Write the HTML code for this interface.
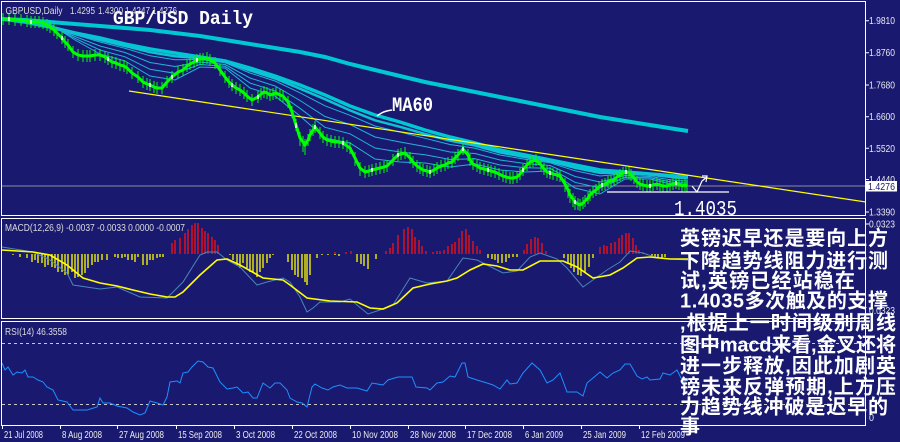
<!DOCTYPE html>
<html><head><meta charset="utf-8"><style>
html,body{margin:0;padding:0;background:#191970;}
svg{display:block;}
</style></head><body>
<svg width="900" height="442" viewBox="0 0 900 442" xmlns="http://www.w3.org/2000/svg">
<rect width="900" height="442" fill="#191970"/>
<defs>
<clipPath id="cm"><rect x="2" y="2" width="863" height="213"/></clipPath>
<clipPath id="cd"><rect x="2" y="219" width="863" height="99"/></clipPath>
<clipPath id="cr"><rect x="2" y="322" width="863" height="103"/></clipPath>
</defs>

<!-- MAIN PANEL -->
<g clip-path="url(#cm)">
<line x1="2" y1="186" x2="865" y2="186" stroke="#909098" stroke-width="1"/>
<!-- long MA -->
<polyline fill="none" stroke="#00c8d2" stroke-width="4" points="2,19 25,20 50,22 75,24 100,26 125,28 150,30 175,33 200,36 225,40 250,44 275,48 300,52 325,57 350,64 375,70 400,76 425,82 450,87 475,92 500,97 525,102 550,107 575,112 600,117 625,121 650,125 675,129 688,131"/>
<!-- MA60 -->
<polyline fill="none" stroke="#00c8d2" stroke-width="3.5" points="2,19 25,22 50,27 75,33 100,38 125,44 150,49 175,53 200,57 225,61 250,68 275,76 300,85 325,95 350,106 375,115 400,122 425,130 450,137 475,143 500,150 525,155 550,160 575,165 600,170 625,172 650,174 675,176 688,177"/>
<polyline fill="none" stroke="#10c0d4" stroke-width="2.5" points="3,19 25,21.8 50,26.6 75,33.8 100,39.9 125,46 150,52.2 175,56.2 200,58.2 225,61.8 250,70.4 275,78.4 300,88.7 325,99.2 350,110.4 375,120.3 400,126.8 425,134 450,140.6 475,145.5 500,152.4 525,157 550,161.3 575,167.8 600,172.9 625,172.8 650,174.6 675,177.1 688,178"/>
<g fill="none" stroke="#20b4d8" stroke-width="1">
<polyline points="3,19 25,21.5 50,26.3 75,34.8 100,42 125,48.3 150,55.8 175,59.8 200,59.5 225,62.8 250,73 275,81 300,92.8 325,105.8 350,115.3 375,126 400,132 425,138.3 450,144.5 475,148.3 500,155 525,159.3 550,162.8 575,170.8 600,176 625,173.8 650,175.3 675,178.3 688,179"/>
<polyline points="3,19 25,21 50,25.5 75,36.5 100,46 125,52.5 150,62.5 175,66.5 200,62 225,64.5 250,78 275,86 300,100.5 325,116.5 350,124.5 375,137 400,142 425,146.5 450,152 475,153.5 500,160 525,163.5 550,165.5 575,176.5 600,182 625,175.5 650,176.5 675,180.5 688,181"/>
<polyline points="3,19 25,20.5 50,24.8 75,38.3 100,50 125,56.8 150,69.3 175,73.3 200,64.5 225,66.3 250,83 275,91 300,108.3 325,127.3 350,133.8 375,148 400,152 425,154.8 450,159.5 475,158.8 500,165 525,167.8 550,168.3 575,182.3 600,188 625,177.3 650,177.8 675,182.8 688,183"/>
<polyline points="3,19 25,20 50,24 75,40 100,54 125,61 150,76 175,80 200,67 225,68 250,88 275,96 300,116 325,138 350,143 375,159 400,162 425,163 450,167 475,164 500,170 525,172 550,171 575,188 600,194 625,179 650,179 675,185 688,185"/>
</g>
<!-- yellow trend line -->
<line x1="129" y1="91" x2="866" y2="202" stroke="#ffff00" stroke-width="1.2"/>
<!-- candles -->
<polyline fill="none" stroke="#00ff00" stroke-width="3" points="3,19 9,19 15,20 21,20 27,21 31,22 35,22 39,22 43,23 47,25 50,27 54,30 57,33 62,38 65,42 68,45 73,52 78,55 83,56 87,56 90,56 95,55 100,55 105,57 108,59 112,62 116,63 120,65 124,66 127,68 132,73 138,77 143,82 147,84 150,85 154,87 157,88 162,88 167,82 172,77 178,72 183,70 187,66 190,64 194,62 197,60 200,59 203,59 207,58 210,60 215,63 220,70 225,77 229,82 232,85 236,88 240,90 244,93 247,96 252,100 258,97 261,94 264,92 267,93 270,95 273,94 276,93 280,95 283,96 288,102 292,112 296,125 300,138 303,142 305,145 308,140 310,135 313,130 315,127 320,133 323,137 327,140 331,141 335,142 339,142 343,143 347,146 350,148 355,158 360,168 365,172 369,171 372,170 376,169 380,168 384,167 387,166 393,160 398,155 401,154 405,153 410,158 413,162 417,166 420,168 423,170 427,171 430,172 434,170 437,168 441,166 445,165 448,163 452,162 455,158 458,155 463,149 468,155 470,160 473,164 477,166 480,168 484,169 488,170 491,171 495,172 499,174 503,176 506,177 510,178 513,178 517,177 520,174 523,170 527,165 530,162 533,161 536,160 541,165 544,169 547,172 550,173 553,174 557,175 560,176 565,184 568,190 570,195 573,199 575,202 578,204 580,205 583,203 585,201 588,198 590,195 593,192 596,190 599,187 602,185 605,184 608,182 611,181 614,180 617,177 620,175 623,173 626,172 629,173 631,175 634,178 637,182 640,184 643,185 647,186 650,186 653,185 657,184 660,185 663,186 667,186 670,185 673,184 676,183 679,184 682,186 685,185 687,186"/>
<path fill="none" stroke="#00ff00" stroke-width="1" d="M3 13v12M9 13v12M15 14v12M21 14v12M27 15v12M31 16v12M35 16v12M39 16v12M43 17v12M47 19v12M50 21v12M54 24v12M57 27v12M62 32v12M65 36v12M68 39v12M73 46v12M78 49v12M83 50v12M87 50v12M90 50v12M95 49v12M100 49v12M105 51v12M108 53v12M112 56v12M116 57v12M120 59v12M124 60v12M127 62v12M132 67v12M138 71v12M143 76v12M147 78v12M150 79v12M154 81v12M157 82v12M162 82v12M167 76v12M172 71v12M178 66v12M183 64v12M187 60v12M190 58v12M194 56v12M197 54v12M200 53v12M203 53v12M207 52v12M210 54v12M215 57v12M220 64v12M225 71v12M229 76v12M232 79v12M236 82v12M240 84v12M244 87v12M247 90v12M252 94v12M258 91v12M261 88v12M264 86v12M267 87v12M270 89v12M273 88v12M276 87v12M280 89v12M283 90v12M288 96v12M292 106v12M296 119v12M300 132v14M303 136v16M305 139v16M308 134v12M310 129v12M313 124v12M315 121v12M320 127v12M323 131v12M327 134v12M331 135v12M335 136v12M339 136v12M343 137v12M347 140v12M350 142v12M355 152v14M360 162v14M365 166v12M369 165v12M372 164v12M376 163v12M380 162v12M384 161v12M387 160v12M393 154v12M398 149v12M401 148v12M405 147v12M410 152v12M413 156v12M417 160v12M420 162v12M423 164v12M427 165v12M430 166v12M434 164v12M437 162v12M441 160v12M445 159v12M448 157v12M452 156v12M455 152v12M458 149v12M463 143v12M468 149v12M470 154v12M473 158v12M477 160v12M480 162v12M484 163v12M488 164v12M491 165v12M495 166v12M499 168v12M503 170v12M506 171v12M510 172v12M513 172v12M517 171v12M520 168v12M523 164v12M527 159v12M530 156v12M533 155v12M536 154v12M541 159v12M544 163v12M547 166v12M550 167v12M553 168v12M557 169v12M560 170v12M565 178v14M568 184v14M570 189v14M573 193v14M575 196v14M578 198v12M580 199v12M583 197v12M585 195v12M588 192v12M590 189v12M593 186v12M596 184v12M599 181v12M602 179v12M605 178v12M608 176v12M611 175v12M614 174v12M617 171v12M620 169v12M623 167v12M626 166v12M629 167v12M631 169v12M634 172v12M637 176v12M640 178v12M643 179v12M647 180v12M650 180v12M653 179v12M657 178v12M660 179v12M663 180v12M667 180v12M670 179v12M673 178v12M676 177v12M679 178v12M682 180v12M685 179v12M687 180v12"/>
<path fill="none" stroke="#ffffff" stroke-width="1.5" d="M9 17v4M31 20v4M62 36v4M108 57v4M150 83v4M172 75v4M197 58v4M232 83v4M258 95v4M296 123v5M315 125v4M343 141v4M372 168v4M398 153v4M430 170v4M463 147v4M488 168v4M523 168v4M550 171v4M575 200v4M602 183v4M626 170v4M650 184v4M676 181v4"/>
<!-- support line & arrow -->
<line x1="607" y1="192" x2="729" y2="192" stroke="#ffffff" stroke-width="1.2"/>
<polyline fill="none" stroke="#ffffff" stroke-width="1.2" points="692,186 697,192 702,181 707,177"/>
<path fill="none" stroke="#ffffff" stroke-width="1.2" d="M702,176 L707,176 L706,182"/>
<!-- MA60 pointer -->
<path fill="none" stroke="#ffffff" stroke-width="1.5" d="M377,116 Q383,111 392,110"/>
</g>
<text x="392" y="111" font-family="'Liberation Mono',monospace" font-weight="bold" font-size="20" fill="#ffffff" textLength="41" lengthAdjust="spacingAndGlyphs">MA60</text>
<text x="113" y="24" font-family="'Liberation Mono',monospace" font-weight="bold" font-size="19" fill="#ffffff" textLength="140" lengthAdjust="spacingAndGlyphs">GBP/USD Daily</text>
<text x="674" y="215" font-family="'Liberation Mono',monospace" font-size="21" fill="#ffffff" textLength="63" lengthAdjust="spacingAndGlyphs">1.4035</text>

<!-- header -->
<g font-family="'Liberation Sans',sans-serif" font-size="10" fill="#dcdcdc">
<text x="5.5" y="14" textLength="57" lengthAdjust="spacingAndGlyphs">GBPUSD,Daily</text>
<text x="70" y="14" textLength="25" lengthAdjust="spacingAndGlyphs">1.4295</text>
<text x="98" y="14" textLength="25" lengthAdjust="spacingAndGlyphs">1.4300</text>
<text x="125" y="14" textLength="25" lengthAdjust="spacingAndGlyphs">1.4247</text>
<text x="152" y="14" textLength="25" lengthAdjust="spacingAndGlyphs">1.4276</text>
<text x="5" y="231" textLength="180" lengthAdjust="spacingAndGlyphs">MACD(12,26,9) -0.0037 -0.0033 0.0000 -0.0007</text>
<text x="5" y="335" textLength="62" lengthAdjust="spacingAndGlyphs">RSI(14) 46.3558</text>
</g>

<!-- MACD PANEL -->
<g clip-path="url(#cd)">
<path fill="none" stroke="#ffff00" stroke-width="1.3" d="M13 254V255M20 254V257M27 254V258M32 254V262M35 254V260M38 254V263M42 254V263M45 254V267M48 254V265M52 254V267M55 254V268M58 254V272M62 254V272M65 254V275M68 254V275M72 254V272M75 254V278M78 254V277M82 254V275M85 254V273M88 254V268M92 254V265M95 254V262M98 254V262M102 254V260M107 254V260M115 254V257M118 254V258M122 254V258M125 254V257M128 254V260M132 254V260M135 254V262M138 254V257M143 254V265M147 254V265M150 254V260M153 254V260M157 254V258M160 254V257M163 254V257M230 254V255M233 254V260M237 254V265M240 254V268M243 254V263M247 254V268M250 254V272M253 254V273M257 254V277M260 254V272M263 254V268M267 254V263M270 254V258M273 254V255M288 254V262M292 254V270M295 254V275M298 254V277M302 254V278M305 254V282M307 254V285M310 254V275M317 254V258M322 254V255M328 254V255M335 254V255M339 254V256M357 254V262M361 254V264M364 254V266M368 254V269M376 254V259M488 254V258M492 254V259M495 254V260M498 254V263M502 254V263M506 254V262M509 254V258M513 254V257M517 254V257M564 254V258M568 254V264M571 254V268M574 254V272M578 254V275M581 254V276M585 254V273M589 254V267M593 254V258M647 254V255M652 254V256M655 254V257M658 254V258M662 254V258M665 254V257"/>
<path fill="none" stroke="#ff1010" stroke-width="1.3" d="M172 254V243M175 254V240M180 254V238M185 254V233M188 254V229M192 254V225M195 254V223M198 254V223M202 254V228M205 254V231M208 254V233M212 254V237M215 254V240M218 254V245M335 254V252M346 254V252M351 254V251M386 254V251M390 254V248M393 254V243M398 254V235M404 254V229M408 254V227M412 254V229M415 254V237M419 254V240M422 254V246M426 254V251M433 254V252M437 254V251M440 254V251M444 254V250M448 254V246M452 254V244M455 254V242M459 254V238M462 254V231M466 254V229M469 254V235M473 254V241M477 254V246M480 254V250M524 254V250M527 254V244M531 254V239M535 254V237M538 254V238M542 254V243M546 254V251M600 254V247M604 254V245M607 254V246M611 254V243M615 254V242M619 254V238M622 254V235M626 254V233M629 254V233M633 254V238M636 254V245M639 254V250M643 254V252"/>
<polyline fill="none" stroke="#4a86b8" stroke-width="1" points="2,247 33,252 50,260 67,273 73,285 100,289 117,287 140,297 167,298 183,282 200,255 207,252 217,252 227,260 240,267 257,285 267,282 283,278 290,282 300,297 307,312 313,308 320,302 340,302 350,299 357,305 368,314 383,309 393,305 410,278 427,283 447,281 463,258 477,260 487,265 503,273 517,271 530,257 540,253 557,259 567,268 583,287 607,270 620,262 630,251 643,253 657,258 670,259 688,260"/>
<polyline fill="none" stroke="#ffff00" stroke-width="1.6" points="2,250 33,252 50,255 67,265 83,278 100,283 117,286 133,290 150,294 167,297 175,297 183,292 200,275 217,260 227,259 240,265 263,278 283,280 290,285 307,298 330,301 357,302 370,308 383,309 397,303 413,288 430,284 447,281 457,278 470,270 483,264 497,266 510,270 523,270 540,261 563,261 577,267 593,278 610,275 623,268 637,258 650,257 670,259 688,259"/>
</g>

<!-- RSI PANEL -->
<g clip-path="url(#cr)">
<line x1="2" y1="343.5" x2="865" y2="343.5" stroke="#c8c8c8" stroke-width="1" stroke-dasharray="3,3"/>
<line x1="2" y1="404.5" x2="865" y2="404.5" stroke="#c8c8c8" stroke-width="1" stroke-dasharray="3,3"/>
<polyline fill="none" stroke="#1e90ff" stroke-width="1" points="2,363 5,370 8,367 13,375 17,372 22,373 25,370 28,377 33,377 38,380 43,382 47,387 53,390 58,400 67,402 73,410 87,410 97,407 100,398 103,403 110,403 117,406 127,408 133,412 140,415 145,413 150,401 157,403 163,405 167,397 170,382 177,381 180,383 183,373 188,372 192,367 198,361 203,362 208,367 213,368 220,382 227,389 233,388 237,387 243,393 248,392 253,398 257,398 263,383 270,388 275,383 280,383 287,390 290,398 297,402 302,403 307,407 312,387 315,384 322,388 328,390 333,387 340,385 347,388 357,388 367,391 372,383 383,385 388,380 398,377 412,377 416,387 427,388 430,390 437,383 443,382 450,376 455,377 462,363 465,363 468,377 477,380 487,383 493,385 500,389 507,380 510,384 517,383 523,373 532,363 540,370 547,383 553,380 560,373 567,392 577,392 583,396 587,383 593,378 600,372 607,378 613,373 620,370 625,364 630,364 637,376 642,379 647,377 650,380 660,379 663,373 670,375 677,370 683,382 688,380"/>
</g>

<!-- panel borders -->
<g fill="none" stroke="#ffffff" stroke-width="1">
<rect x="1.5" y="1.5" width="864" height="214"/>
<rect x="1.5" y="218.5" width="864" height="100"/>
<rect x="1.5" y="321.5" width="864" height="104"/>
</g>

<!-- price axis -->
<g stroke="#ffffff" stroke-width="1">
<path d="M865 20.7h4M865 52.7h4M865 85h4M865 116.7h4M865 148.3h4M865 179.5h4M865 212h4M865 224h4M2.5 425v4M60.5 425v4M117.5 425v4M176.5 425v4M234.5 425v4M292.5 425v4M350.5 425v4M408.5 425v4M465.5 425v4M523.5 425v4M581.5 425v4M639.5 425v4"/>
</g>
<g font-family="'Liberation Sans',sans-serif" font-size="10" fill="#e8e8f0">
<text x="869" y="24.2" textLength="26" lengthAdjust="spacingAndGlyphs">1.9810</text>
<text x="869" y="56.2" textLength="26" lengthAdjust="spacingAndGlyphs">1.8760</text>
<text x="869" y="88.5" textLength="26" lengthAdjust="spacingAndGlyphs">1.7680</text>
<text x="869" y="120.2" textLength="26" lengthAdjust="spacingAndGlyphs">1.6600</text>
<text x="869" y="151.8" textLength="26" lengthAdjust="spacingAndGlyphs">1.5520</text>
<text x="869" y="183" textLength="26" lengthAdjust="spacingAndGlyphs">1.4440</text>
<text x="869" y="215.5" textLength="26" lengthAdjust="spacingAndGlyphs">1.3390</text>
<text x="869" y="227.5" textLength="26" lengthAdjust="spacingAndGlyphs">0.0323</text>
<text x="869" y="314" textLength="26" lengthAdjust="spacingAndGlyphs">0.0323</text>
<text x="869" y="421" textLength="5" lengthAdjust="spacingAndGlyphs">0</text>
</g>
<rect x="866" y="181" width="31" height="10.5" fill="#ffffff"/>
<text x="868" y="190" font-family="'Liberation Sans',sans-serif" font-size="10" fill="#191970" textLength="27" lengthAdjust="spacingAndGlyphs">1.4276</text>

<!-- dates -->
<g font-family="'Liberation Sans',sans-serif" font-size="10" fill="#ececec">
<text x="4" y="438" textLength="39" lengthAdjust="spacingAndGlyphs">21 Jul 2008</text>
<text x="62" y="438" textLength="40" lengthAdjust="spacingAndGlyphs">8 Aug 2008</text>
<text x="119" y="438" textLength="45" lengthAdjust="spacingAndGlyphs">27 Aug 2008</text>
<text x="178" y="438" textLength="44" lengthAdjust="spacingAndGlyphs">15 Sep 2008</text>
<text x="236" y="438" textLength="39" lengthAdjust="spacingAndGlyphs">3 Oct 2008</text>
<text x="294" y="438" textLength="43" lengthAdjust="spacingAndGlyphs">22 Oct 2008</text>
<text x="352" y="438" textLength="46" lengthAdjust="spacingAndGlyphs">10 Nov 2008</text>
<text x="410" y="438" textLength="46" lengthAdjust="spacingAndGlyphs">28 Nov 2008</text>
<text x="467" y="438" textLength="45" lengthAdjust="spacingAndGlyphs">17 Dec 2008</text>
<text x="525" y="438" textLength="38" lengthAdjust="spacingAndGlyphs">6 Jan 2009</text>
<text x="583" y="438" textLength="43" lengthAdjust="spacingAndGlyphs">25 Jan 2009</text>
<text x="641" y="438" textLength="44" lengthAdjust="spacingAndGlyphs">12 Feb 2009</text>
</g>

<!-- Chinese annotation -->
<g font-family="'Liberation Sans','Noto Sans CJK SC',sans-serif" font-size="20" font-weight="bold" fill="#ffffff">
<text x="680" y="245" textLength="208" lengthAdjust="spacing">英镑迟早还是要向上方</text>
<text x="680" y="267.5" textLength="208" lengthAdjust="spacing">下降趋势线阻力进行测</text>
<text x="680" y="287.5" textLength="175" lengthAdjust="spacing">试,英镑已经站稳在</text>
<text x="680" y="307.5" textLength="208" lengthAdjust="spacing">1.4035多次触及的支撑</text>
<text x="680" y="329.5" textLength="216" lengthAdjust="spacing">,根据上一时间级别周线</text>
<text x="680" y="351.5" textLength="216" lengthAdjust="spacing">图中macd来看,金叉还将</text>
<text x="680" y="372.5" textLength="216" lengthAdjust="spacing">进一步释放,因此加剧英</text>
<text x="680" y="393.5" textLength="216" lengthAdjust="spacing">镑未来反弹预期,上方压</text>
<text x="680" y="413.5" textLength="208" lengthAdjust="spacing">力趋势线冲破是迟早的</text>
<text x="680" y="433.5">事</text>
</g>
</svg>
</body></html>
